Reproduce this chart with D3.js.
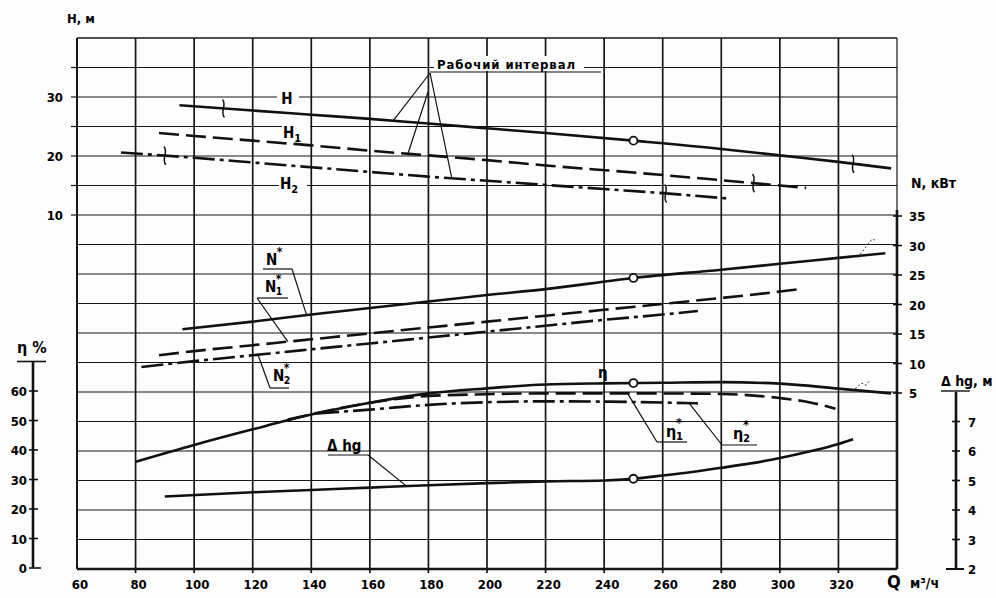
<!DOCTYPE html>
<html>
<head>
<meta charset="utf-8">
<script src="https://cdn.jsdelivr.net/npm/d3@7"></script>
<style>
  body { margin: 0; background: #fff; }
  text { font-family: "DejaVu Sans Condensed", "Liberation Sans Narrow", sans-serif; fill: #000; font-weight: bold; }
</style>
</head>
<body>
<script>
// ---- data (Q in m3/h) ----
const qTicks = [60, 80, 100, 120, 140, 160, 180, 200, 220, 240, 260, 280, 300, 320];
const hTicks = [10, 20, 30];
const nTicks = [5, 10, 15, 20, 25, 30, 35];
const etaTicks = [0, 10, 20, 30, 40, 50, 60];
const dhTicks = [2, 3, 4, 5, 6, 7];

// head curves, m
const qH  = [95, 120, 140, 160, 180, 200, 220, 250, 280, 300, 320, 338];
const H   = [28.6, 27.7, 27.0, 26.3, 25.5, 24.7, 23.9, 22.6, 21.2, 20.1, 19.0, 17.9];
const qH1 = [88, 100, 120, 140, 160, 180, 200, 220, 250, 280, 300, 309];
const H1  = [23.9, 23.4, 22.6, 21.8, 20.9, 20.1, 19.3, 18.4, 17.2, 15.9, 15.0, 14.6];
const qH2 = [75, 100, 120, 140, 160, 180, 200, 220, 240, 260, 282];
const H2  = [20.6, 19.7, 18.9, 18.1, 17.3, 16.5, 15.8, 15.1, 14.4, 13.7, 12.8];

// power curves, kW
const qN  = [96, 120, 140, 160, 180, 200, 220, 250, 280, 300, 320, 336];
const N   = [15.8, 17.1, 18.3, 19.4, 20.5, 21.6, 22.6, 24.5, 25.9, 26.9, 27.9, 28.7];
const qN1 = [88, 100, 120, 140, 160, 180, 200, 220, 240, 260, 280, 300, 308];
const N1  = [11.4, 12.1, 13.1, 14.1, 15.1, 16.1, 17.1, 18.1, 19.1, 20.1, 21.1, 22.2, 22.7];
const qN2 = [82, 100, 120, 140, 160, 180, 200, 220, 240, 260, 272];
const N2  = [9.4, 10.4, 11.4, 12.4, 13.4, 14.4, 15.4, 16.4, 17.4, 18.3, 18.9];

// efficiency curves, %
const qEta  = [80, 100, 120, 140, 160, 180, 200, 220, 240, 260, 280, 300, 320, 338];
const Eta   = [36, 41.7, 47, 52, 56, 59.2, 60.9, 62.2, 62.6, 62.8, 63.0, 62.5, 60.8, 59.2];
const qEta1 = [132, 150, 160, 180, 200, 220, 250, 280, 300, 310, 319];
const Eta1  = [50.3, 54.2, 56, 58.3, 58.9, 59.2, 59.2, 59.0, 57.6, 56.2, 54.0];
const qEta2 = [142, 160, 180, 200, 220, 240, 260, 272];
const Eta2  = [52.4, 53.7, 55.3, 56.2, 56.5, 56.4, 56.1, 55.8];

// NPSH, m
const qDh = [90, 120, 140, 160, 180, 200, 220, 240, 250, 260, 270, 280, 290, 300, 310, 320, 325];
const Dh  = [4.46, 4.6, 4.68, 4.76, 4.84, 4.91, 4.97, 5.0, 5.06, 5.17, 5.29, 5.43, 5.58, 5.76, 5.98, 6.24, 6.4];

const qDuty = 250;
// boundaries of the working interval
const workH = [110, 325], workH1 = [291], workH2 = [90, 261];

// ---- scales ----
const width = 996, height = 598;
const x    = d3.scaleLinear().domain([60, 340]).range([77, 897]);
const yH   = d3.scaleLinear().domain([0, 40]).range([274, 38]);
const yN   = d3.scaleLinear().domain([0, 35]).range([422.5, 216]);
const yEta = d3.scaleLinear().domain([0, 70]).range([568, 361.5]);
const yDh  = d3.scaleLinear().domain([2, 8]).range([569, 392]);
const yGrid = d3.scaleLinear().domain([0, 18]).range([569, 38]);

const svg = d3.select('body').append('svg').attr('width', width).attr('height', height);
svg.append('rect').attr('width', width).attr('height', height).attr('fill', '#fdfdfd');

//grid
const grid = svg.append('g').attr('stroke', '#161616').attr('fill', 'none');
grid.selectAll('line.h').data(d3.range(1, 18)).join('line')
    .attr('x1', x(60)).attr('x2', x(340))
    .attr('y1', d => yGrid(d)).attr('y2', d => yGrid(d))
    .attr('stroke-width', 1.2);
grid.selectAll('line.v').data(qTicks.slice(1)).join('line')
    .attr('x1', d => x(d)).attr('x2', d => x(d))
    .attr('y1', yGrid(18)).attr('y2', yGrid(0) + 4)
    .attr('stroke-width', 1.7);
//frame
grid.append('line').attr('x1', x(60)).attr('x2', x(340)).attr('y1', yGrid(18)).attr('y2', yGrid(18)).attr('stroke-width', 1.4);
grid.append('line').attr('x1', x(60)).attr('x2', x(60)).attr('y1', yGrid(18)).attr('y2', yGrid(0)).attr('stroke-width', 2);
grid.append('line').attr('x1', x(340)).attr('x2', x(340)).attr('y1', yGrid(18)).attr('y2', yN(35)).attr('stroke-width', 1.2);
grid.append('line').attr('x1', x(340)).attr('x2', x(340)).attr('y1', yN(35) - 6).attr('y2', yGrid(0)).attr('stroke-width', 2.6);
grid.append('line').attr('x1', x(60)).attr('x2', x(340)).attr('y1', yGrid(0)).attr('y2', yGrid(0)).attr('stroke-width', 2.4);

//x labels
svg.append('g').selectAll('text').data(qTicks).join('text')
    .attr('x', d => x(d) + 3).attr('y', 589)
    .attr('text-anchor', 'middle').attr('font-size', 13)
    .text(d => d);
svg.append('text').attr('x', 887).attr('y', 588).attr('font-size', 18).text('Q');
svg.append('text').attr('x', 910).attr('y', 588).attr('font-size', 14).text('м³/ч');

//H axis
svg.append('g').selectAll('line').data([10, 15, 20, 25, 30, 35]).join('line')
    .attr('x1', x(60) - 6).attr('x2', x(60)).attr('y1', d => yH(d)).attr('y2', d => yH(d))
    .attr('stroke', '#161616').attr('stroke-width', 1.2);
svg.append('g').selectAll('text').data(hTicks).join('text')
    .attr('x', 63).attr('y', d => yH(d) + 5)
    .attr('text-anchor', 'end').attr('font-size', 13).text(d => d);
svg.append('text').attr('x', 67).attr('y', 23).attr('font-size', 13).text('H, м');

//eta axis on the left
const ga = svg.append('g').attr('stroke', '#111');
ga.append('line').attr('x1', 33).attr('x2', 33).attr('y1', yEta(70)).attr('y2', yEta(0)).attr('stroke-width', 2.6);
ga.append('line').attr('x1', 17).attr('x2', 46).attr('y1', yEta(70)).attr('y2', yEta(70)).attr('stroke-width', 1.6);
ga.selectAll('line.t').data(etaTicks).join('line')
    .attr('x1', 29).attr('x2', d => d === 0 ? 41 : 38)
    .attr('y1', d => yEta(d)).attr('y2', d => yEta(d)).attr('stroke-width', 1.6);
svg.append('g').selectAll('text').data(etaTicks).join('text')
    .attr('x', 27).attr('y', d => yEta(d) + 5)
    .attr('text-anchor', 'end').attr('font-size', 13).text(d => d);
svg.append('text').attr('x', 17).attr('y', 353).attr('font-size', 16).text('η %');

//N axis on the right
svg.append('g').selectAll('line').data(nTicks).join('line')
    .attr('x1', x(340) - 4).attr('x2', x(340) + 5).attr('y1', d => yN(d)).attr('y2', d => yN(d))
    .attr('stroke', '#111').attr('stroke-width', 1.6);
svg.append('g').selectAll('text').data(nTicks).join('text')
    .attr('x', 909).attr('y', d => yN(d) + 5).attr('font-size', 13).text(d => d);
svg.append('text').attr('x', 911).attr('y', 188).attr('font-size', 14).text('N, кВт');

//NPSH axis
const gd = svg.append('g').attr('stroke', '#111');
gd.append('line').attr('x1', 956).attr('x2', 956).attr('y1', yDh(8)).attr('y2', yDh(2)).attr('stroke-width', 2.6);
gd.append('line').attr('x1', 941).attr('x2', 970).attr('y1', yDh(8) - 1).attr('y2', yDh(8) - 1).attr('stroke-width', 1.4);
gd.append('line').attr('x1', 946).attr('x2', 964).attr('y1', yDh(2)).attr('y2', yDh(2)).attr('stroke-width', 2);
gd.selectAll('line.t').data(dhTicks.slice(1)).join('line')
    .attr('x1', 952).attr('x2', 960).attr('y1', d => yDh(d)).attr('y2', d => yDh(d)).attr('stroke-width', 1.6);
svg.append('g').selectAll('text').data(dhTicks).join('text')
    .attr('x', 968).attr('y', d => yDh(d) + 5).attr('font-size', 13).text(d => d);
svg.append('text').attr('x', 941).attr('y', 386).attr('font-size', 14).text('Δ hg, м');

//curves
const dashed = '20,7', dashDot = '22,5,4,5';
const curves = [
  {q: qH, v: H, y: yH, dash: null},
  {q: qH1, v: H1, y: yH, dash: dashed},
  {q: qH2, v: H2, y: yH, dash: dashDot},
  {q: qN, v: N, y: yN, dash: null},
  {q: qN1, v: N1, y: yN, dash: dashed},
  {q: qN2, v: N2, y: yN, dash: dashDot},
  {q: qEta1, v: Eta1, y: yEta, dash: dashed},
  {q: qEta2, v: Eta2, y: yEta, dash: dashDot},
  {q: qEta, v: Eta, y: yEta, dash: null},
  {q: qDh, v: Dh, y: yDh, dash: null}
];
const at = (c, q) => d3.scaleLinear().domain(c.q).range(c.v)(q);

svg.append('g').selectAll('path').data(curves).join('path')
    .attr('fill', 'none').attr('stroke', '#111').attr('stroke-width', 2.6)
    .attr('stroke-dasharray', d => d.dash)
    .attr('d', c => d3.line().x(d => x(d[0])).y(d => c.y(d[1])).curve(d3.curveMonotoneX)(d3.zip(c.q, c.v)));

//working interval marks
const marks = [];
workH.forEach(q => marks.push([x(q), yH(at(curves[0], q))]));
workH1.forEach(q => marks.push([x(q), yH(at(curves[1], q))]));
workH2.forEach(q => marks.push([x(q), yH(at(curves[2], q))]));
svg.append('g').selectAll('path').data(marks).join('path')
    .attr('fill', 'none').attr('stroke', '#111').attr('stroke-width', 1.5)
    .attr('d', p => `M${p[0] - 1},${p[1] - 9} C${p[0] + 4},${p[1] - 4} ${p[0] - 4},${p[1] + 4} ${p[0] + 1},${p[1] + 9}`);

//duty point circles
const duty = [curves[0], curves[3], curves[8], curves[9]];
svg.append('g').selectAll('circle').data(duty).join('circle')
    .attr('cx', x(qDuty)).attr('cy', c => c.y(at(c, qDuty))).attr('r', 4)
    .attr('fill', '#fff').attr('stroke', '#111').attr('stroke-width', 1.8);

//labels with a white patch over the grid
function label(tx, ty, txt, sub, size) {
  const g = svg.append('g');
  g.append('rect').attr('x', tx - 10).attr('y', ty - 14).attr('width', sub ? 28 : 22).attr('height', 18).attr('fill', '#fdfdfd');
  const t = g.append('text').attr('x', tx).attr('y', ty).attr('text-anchor', 'middle').attr('font-size', size || 15).text(txt);
  if (sub) t.append('tspan').attr('dy', 4).attr('font-size', 11).text(sub);
}
label(287, 104, 'H');
label(292, 138, 'H', '1');
label(289, 189, 'H', '2');

const ann = svg.append('g').attr('stroke', '#111').attr('stroke-width', 1.2).attr('fill', 'none');
const line = (a, b) => ann.append('line').attr('x1', a[0]).attr('y1', a[1]).attr('x2', b[0]).attr('y2', b[1]);

//"working interval"
svg.append('rect').attr('x', 434).attr('y', 56).attr('width', 150).attr('height', 15).attr('fill', '#fdfdfd');
svg.append('text').attr('x', 437).attr('y', 69).attr('font-size', 13).attr('textLength', 138).text('Рабочий  интервал');
line([430, 72], [601, 72]);
line([430, 73], [x(168), yH(at(curves[0], 168))]);
line([428, 92], [x(173), yH(at(curves[1], 173))]);
line([430, 73], [x(188), yH(at(curves[2], 188))]);

//N labels
function starLabel(tx, ty, base, sub, size) {
  svg.append('text').attr('x', tx).attr('y', ty).attr('font-size', size).text(base);
  const w = base === 'N' ? size * 0.72 : size * 0.62;
  svg.append('text').attr('x', tx + w).attr('y', ty - size * 0.6).attr('font-size', size * 0.8).text('*');
  if (sub) svg.append('text').attr('x', tx + w).attr('y', ty + 3).attr('font-size', size * 0.7).text(sub);
}
starLabel(266, 265, 'N', null, 15);
line([263, 269], [292, 269]);
line([292, 269], [x(138.4), yN(at(curves[3], 138.4))]);
starLabel(265, 292, 'N', '1', 15);
line([257, 298], [288, 298]);
line([257, 298], [x(132), yN(at(curves[4], 132))]);
starLabel(273, 381, 'N', '2', 15);
line([270, 388], [289, 388]);
line([270, 388], [x(121.8), yN(at(curves[5], 121.8))]);

//eta labels
svg.append('text').attr('x', 598).attr('y', 378).attr('font-size', 15).text('η');
starLabel(666, 437, 'η', '1', 16);
line([657, 442], [687, 442]);
line([657, 442], [x(248), yEta(at(curves[6], 248))]);
starLabel(733, 439, 'η', '2', 16);
line([722, 445], [757, 445]);
line([722, 445], [x(269), yEta(at(curves[7], 269))]);

//NPSH label
svg.append('text').attr('x', 327).attr('y', 451).attr('font-size', 15).text('Δ hg');
line([328, 455], [368, 455]);
line([368, 455], [x(172.5), yDh(at(curves[9], 172.5))]);

//small scribbles at the curve ends
const dotted = svg.append('g').attr('stroke', '#333').attr('stroke-width', 1).attr('stroke-dasharray', '2,2').attr('fill', 'none');
const pN = [x(328), yN(at(curves[3], 328))];
dotted.append('path').attr('d', `M${pN[0] - 4},${pN[1] + 2} L${pN[0] + 8},${pN[1] - 14} q4,-4 6,0`);
const pE = [x(326), yEta(at(curves[8], 326))];
dotted.append('path').attr('d', `M${pE[0] - 4},${pE[1] + 1} L${pE[0] + 6},${pE[1] - 7} l4,2 l3,-4`);
</script>
</body>
</html>
